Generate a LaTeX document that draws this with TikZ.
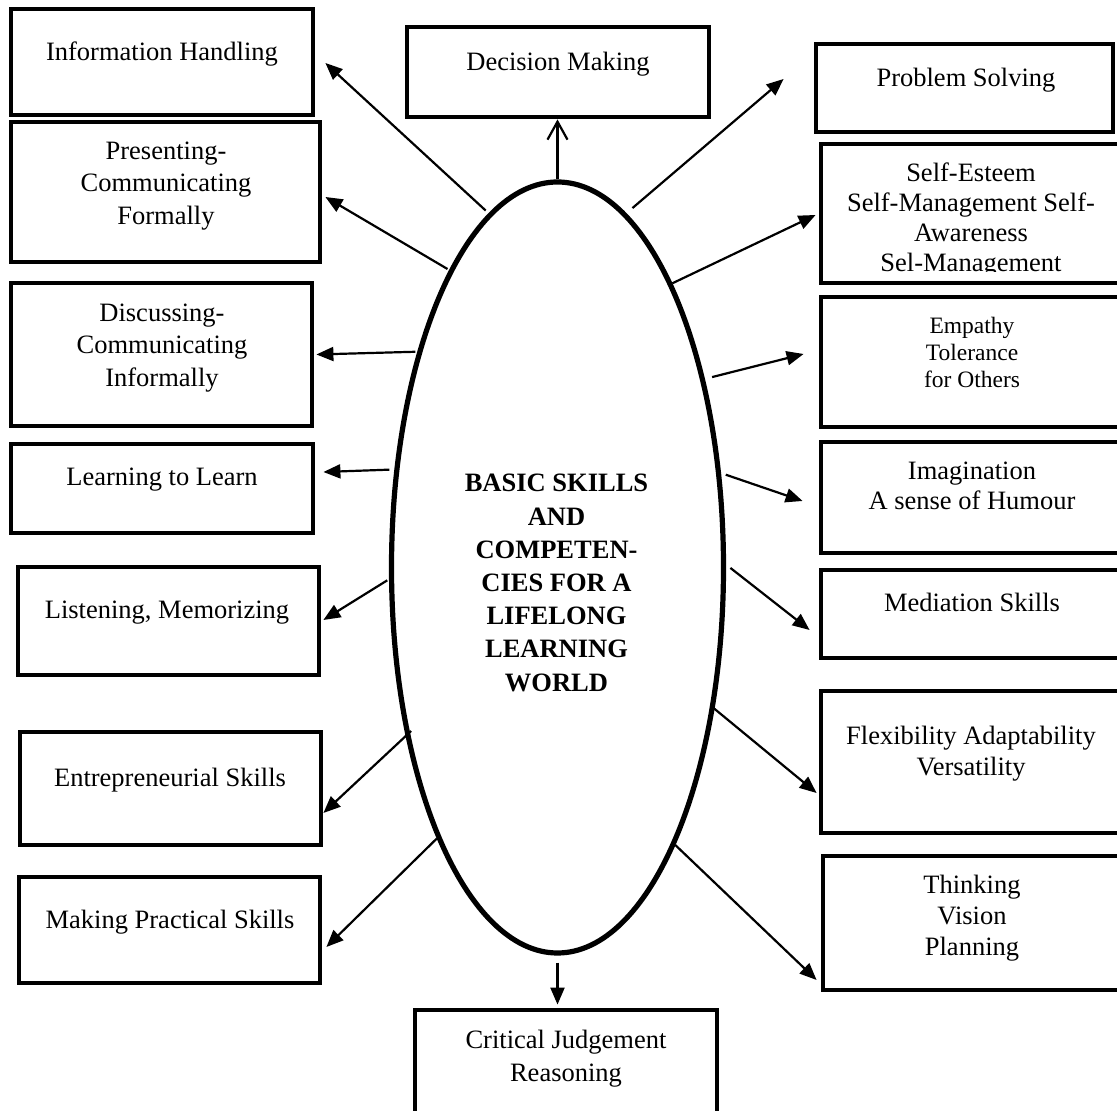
\documentclass[tikz,border=0pt]{standalone}
\usepackage{fontspec}
\setmainfont{Liberation Serif}
\usetikzlibrary{arrows.meta,shapes.geometric}

\tikzset{
  skillbox/.style={draw, line width=4.8pt, minimum width=302pt, inner sep=0pt},
  skilltext/.style={align=center, inner sep=0pt, font=\fontsize{26.5}{32.5}\selectfont},
  link/.style={line width=2.2pt, -{Triangle[length=17pt,width=14pt]}},
  openlink/.style={line width=2.2pt, -{Straight Barb[length=18pt,width=20pt]}}
}

\begin{document}
\begin{tikzpicture}[x=1pt, y=1pt]
  \useasboundingbox (0,0) rectangle (1117,1111);
  \clip (0,0) rectangle (1117,1111);

  % centre
  \node[draw, ellipse, line width=5.2pt, minimum width=332pt, minimum height=771pt, inner sep=0pt] (core) at (557.5,543.5) {};
  \node[skilltext, font=\bfseries\fontsize{26.5}{33.2}\selectfont] (coretext) at (556.5,528)
    {BASIC SKILLS\\AND\\COMPETEN-\\CIES FOR A\\LIFELONG\\LEARNING\\WORLD};

  % left column
  \node[skillbox, minimum height=106pt] (info) at (162,1049) {};
  \node[skilltext] (infotext) at (162,1057) {Information Handling};
  \node[skillbox, minimum width=309pt, minimum height=140pt] (present) at (165.5,919) {};
  \node[skilltext] (presenttext) at (166,925.3) {Presenting-\\Communicating\\Formally};
  \node[skillbox, minimum width=301pt, minimum height=143pt] (discuss) at (161.5,756.5) {};
  \node[skilltext] (discusstext) at (162,763.3) {Discussing-\\Communicating\\Informally};
  \node[skillbox, minimum height=89pt] (learn) at (162,622.5) {};
  \node[skilltext] (learntext) at (162,631) {Learning to Learn};
  \node[skillbox, minimum width=301pt, minimum height=108pt] (listen) at (168.5,490) {};
  \node[skilltext] (listentext) at (167,498) {Listening, Memorizing};
  \node[skillbox, minimum width=301pt, minimum height=113pt] (entre) at (170.5,322.5) {};
  \node[skilltext] (entretext) at (170,331) {Entrepreneurial Skills};
  \node[skillbox, minimum width=301pt, minimum height=106pt] (practical) at (169.5,181) {};
  \node[skilltext] (practicaltext) at (170,189) {Making Practical Skills};

  % top and bottom
  \node[skillbox, minimum height=90pt] (decision) at (558,1039) {};
  \node[skilltext] (decisiontext) at (558,1047) {Decision Making};
  \node[skillbox, minimum height=130pt] (critical) at (566,36) {};
  \node[skilltext] (criticaltext) at (566,52.5) {Critical Judgement\\Reasoning};

  % right column
  \node[skillbox, minimum width=297pt, minimum height=88pt] (problem) at (964.5,1023) {};
  \node[skilltext] (problemtext) at (966,1031) {Problem Solving};
  \node[skillbox, minimum width=304pt, minimum height=139pt] (esteem) at (973,897.5) {};
  \begin{scope}
    \clip (821,839.5) rectangle (1117,970);
    \node[skilltext, font=\fontsize{26.5}{30}\selectfont] (esteemtext) at (971,891.3)
      {Self-Esteem\\Self-Management Self-\\Awareness\\Sel-Management};
  \end{scope}
  \node[skillbox, minimum width=304pt, minimum height=130pt] (empathy) at (973,749) {};
  \node[skilltext, font=\fontsize{23.5}{27}\selectfont] (empathytext) at (972,759) {Empathy\\Tolerance\\for Others};
  \node[skillbox, minimum width=304pt, minimum height=111pt] (imag) at (973,613.5) {};
  \node[skilltext, font=\fontsize{26.5}{30}\selectfont] (imagtext) at (972,625) {Imagination\\A sense of Humour};
  \node[skillbox, minimum width=304pt, minimum height=88pt] (mediation) at (973,497) {};
  \node[skilltext] (mediationtext) at (972,509) {Mediation Skills};
  \node[skillbox, minimum width=304pt, minimum height=142pt] (flex) at (973,349) {};
  \node[skilltext, font=\fontsize{26.5}{31}\selectfont] (flextext) at (971,357.5) {Flexibility Adaptability\\Versatility};
  \node[skillbox, minimum height=134pt] (thinking) at (974,188) {};
  \node[skilltext, font=\fontsize{26.5}{31}\selectfont] (thinkingtext) at (972,192.7) {Thinking\\Vision\\Planning};

  % arrows
  \draw[openlink] (core.north) -- (core.north |- decision.south);
  \draw[link, shorten <=7pt, shorten >=3pt] (core.south) -- (core.south |- critical.north);
  \draw[link, shorten <=4pt] (core.101.3) -- ([shift={(10,-1)}]info.east);
  \draw[link, shorten <=2pt] (core.110.5) -- ([shift={(3,-5)}]present.east);
  \draw[link, shorten <=2pt] (core.123.3) -- ([shift={(2,0)}]discuss.east);
  \draw[link, shorten <=5pt] (core.149.6) -- ([shift={(8,16.5)}]learn.east);
  \draw[link, shorten <=2pt] (core.184.9) -- ([shift={(2,1)}]listen.east);
  \draw[link, shorten <=-7.5pt] (core.228.4) -- ([shift={(0,-24.5)}]entre.east);
  \draw[link] (core.246.3) -- ([shift={(4,-17)}]practical.east);
  \draw[link, shorten <=8pt] (core.79.6) -- ([shift={(-30,9)}]problem.west);
  \draw[link] (core.68.1) -- ([shift={(-3,-1.5)}]esteem.west);
  \draw[link, shorten <=7.5pt] (core.52.4) -- ([shift={(-15,8)}]empathy.west);
  \draw[link, shorten <=5pt] (core.30) -- ([shift={(-16,-3.5)}]imag.west);
  \draw[link, shorten <=5.5pt] (core.1) -- ([shift={(-9,-16)}]mediation.west);
  \draw[link, shorten <=-3.8pt] (core.-42.2) -- ([shift={(-2,-31)}]flex.west);
  \draw[link] (core.-67.3) -- ([shift={(-4,-57)}]thinking.west);
\end{tikzpicture}
\end{document}
